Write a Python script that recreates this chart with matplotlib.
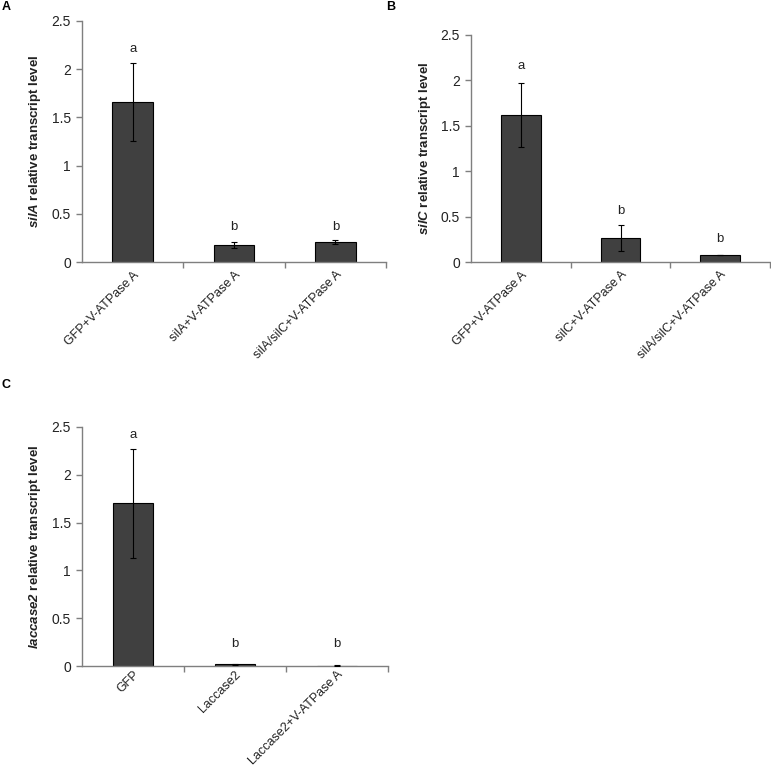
import matplotlib
matplotlib.use("Agg")
import matplotlib.pyplot as plt
import numpy as np

plt.rcParams['font.family'] = ['Liberation Sans', 'DejaVu Sans']
plt.rcParams['mathtext.fontset'] = 'custom'
plt.rcParams['mathtext.rm'] = 'Liberation Sans'
plt.rcParams['mathtext.it'] = 'Liberation Sans:italic'
plt.rcParams['mathtext.bf'] = 'Liberation Sans:bold'
plt.rcParams['mathtext.bfit'] = 'Liberation Sans:italic:bold'

# ---- data ----
cats_a = ["GFP+V-ATPase A", "silA+V-ATPase A", "silA/silC+V-ATPase A"]
vals_a = [1.66, 0.18, 0.21]
errs_a = [0.40, 0.03, 0.02]
letters_a = ["a", "b", "b"]
letter_y_a = [2.21, 0.36, 0.36]

cats_b = ["GFP+V-ATPase A", "silC+V-ATPase A", "silA/silC+V-ATPase A"]
vals_b = [1.62, 0.265, 0.077]
errs_b = [0.355, 0.14, 0.005]
letters_b = ["a", "b", "b"]
letter_y_b = [2.16, 0.565, 0.257]

cats_c = ["GFP", "Laccase2", "Laccase2+V-ATPase A"]
vals_c = [1.70, 0.02, 0.005]
errs_c = [0.57, 0.006, 0.001]
letters_c = ["a", "b", "b"]
letter_y_c = [2.42, 0.234, 0.234]

yticks = [0, 0.5, 1, 1.5, 2, 2.5]
ytick_labels = ["0", "0.5", "1", "1.5", "2", "2.5"]

W, H = 771, 770
fig = plt.figure(figsize=(W / 100, H / 100), dpi=100)

AX_GRAY = "#7f7f7f"
TXT = "#222222"


def px_axes(l, r, top, bot):
    return fig.add_axes([l / W, 1 - bot / H, (r - l) / W, (bot - top) / H])


def panel(ax, cats, vals, errs, letters, letter_y, gene, label_off_px, xpad=5):
    n = len(cats)
    x = np.arange(n) + 0.5
    ax.bar(x, vals, width=0.4, color="#404040", edgecolor="black", linewidth=0.8, zorder=2)
    ax.errorbar(x, vals, yerr=errs, fmt="none", ecolor="black", elinewidth=0.8,
                capsize=2.5, capthick=0.8, zorder=3)
    for xi, t, ly in zip(x, letters, letter_y):
        ax.text(xi, ly, t, ha="center", va="center", fontsize=9.5, color=TXT)
    ax.set_xlim(0, n)
    ax.set_ylim(0, 2.5)
    ax.set_yticks(yticks)
    ax.set_yticklabels(ytick_labels)
    ax.set_xticks(np.arange(1, n + 1))
    ax.set_xticklabels([])
    ax.set_xticks(x, minor=True)
    ax.set_xticklabels(cats, minor=True, rotation=45, ha="right",
                       rotation_mode="anchor", fontsize=9, color=TXT)
    ax.tick_params(axis="x", which="minor", length=0, pad=xpad)
    ax.tick_params(axis="x", which="major", length=4, direction="out", color=AX_GRAY, width=1)
    ax.tick_params(axis="y", length=4, direction="out", color=AX_GRAY, width=1,
                   labelsize=10, labelcolor=TXT, pad=4)
    for s in ["top", "right"]:
        ax.spines[s].set_visible(False)
    for s in ["left", "bottom"]:
        ax.spines[s].set_color(AX_GRAY)
        ax.spines[s].set_linewidth(1)
    ax.set_ylabel(r"$\mathbfit{" + gene + r"}$ relative transcript level",
                  fontsize=9.5, fontweight="bold", color=TXT)
    bbox_w = ax.get_position().width * W
    ax.yaxis.set_label_coords(-label_off_px / bbox_w, 0.5)


axA = px_axes(82, 386, 21, 262)
panel(axA, cats_a, vals_a, errs_a, letters_a, letter_y_a, "silA", 39)

axB = px_axes(471, 770, 35, 262)
panel(axB, cats_b, vals_b, errs_b, letters_b, letter_y_b, "silC", 38)

axC = px_axes(82, 388, 427, 666)
panel(axC, cats_c, vals_c, errs_c, letters_c, letter_y_c, "laccase2", 39, xpad=2)

fig.text(6 / W, 1 - 7 / H, "A", fontsize=9, fontweight="bold", ha="center", va="center")
fig.text(391 / W, 1 - 7 / H, "B", fontsize=9, fontweight="bold", ha="center", va="center")
fig.text(6 / W, 1 - 385 / H, "C", fontsize=9, fontweight="bold", ha="center", va="center")

fig.savefig("out.png", dpi=100, facecolor="white")
